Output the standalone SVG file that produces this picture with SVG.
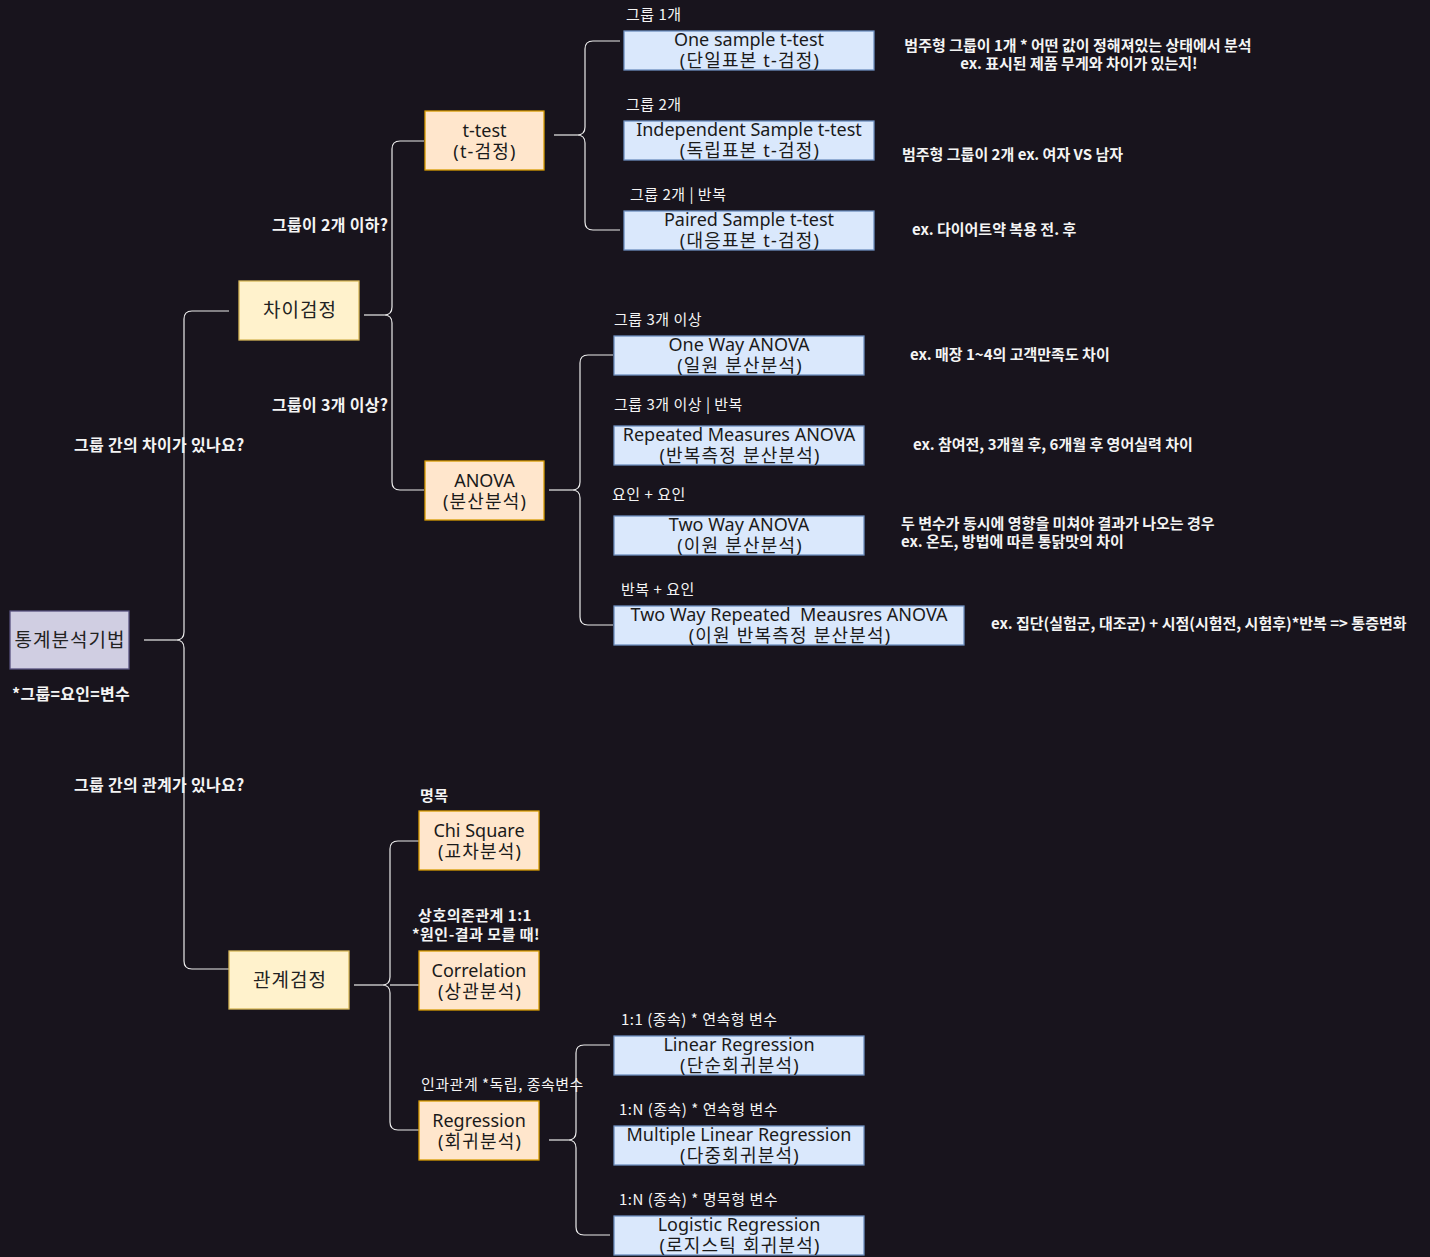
<svg xmlns="http://www.w3.org/2000/svg" width="1430" height="1257" viewBox="0 0 1430 1257">
<style>
.bg{fill:#18141d}
.blue{fill:#dae8fc;stroke:#6c8ebf;stroke-width:1.3}
.orange{fill:#ffe6cc;stroke:#d79b00;stroke-width:1.3}
.yellow{fill:#fff2cc;stroke:#d6b656;stroke-width:1.3}
.root{fill:#d0cee2;stroke:#56517e;stroke-width:1.3}
.nt{font-family:"Noto Sans","Noto Sans CJK KR",sans-serif;font-size:18px;fill:#1a1a1a;text-anchor:middle;white-space:pre}
.k{letter-spacing:1.2px}
.big{font-family:"Noto Sans CJK KR","Noto Sans",sans-serif;font-size:19px;letter-spacing:1px;fill:#222;text-anchor:middle}
.q{font-family:"Noto Sans CJK KR",sans-serif;font-size:16px;font-weight:bold;letter-spacing:0.3px;fill:#f4f4f4}
.lb{font-family:"Noto Sans CJK KR",sans-serif;font-size:15px;letter-spacing:0.5px;fill:#f4f4f4}
.lbb{font-family:"Noto Sans CJK KR",sans-serif;font-size:15px;font-weight:bold;letter-spacing:0.5px;fill:#f4f4f4}
.d{font-family:"Noto Sans CJK KR",sans-serif;font-size:15px;font-weight:bold;fill:#f4f4f4}
.c{fill:none;stroke:#ececec;stroke-width:1.2}
</style>
<rect class="bg" x="0" y="0" width="1430" height="1257"/>
<g id="connectors">
<path class="c" d="M144 640 H176"/>
<path class="c" d="M229 311 H192 Q184 311 184 319 V632 Q184 640 176 640 Q184 640 184 648 V961 Q184 969 192 969 H229"/>
<path class="c" d="M364 315 H384"/>
<path class="c" d="M424 141 H400 Q392 141 392 149 V307 Q392 315 384 315 Q392 315 392 323 V482 Q392 490 400 490 H424"/>
<path class="c" d="M554 135 H577"/>
<path class="c" d="M620 41 H593 Q585 41 585 49 V127 Q585 135 577 135 Q585 135 585 143 V222 Q585 230 593 230 H620"/>
<path class="c" d="M549 490 H572"/>
<path class="c" d="M613 355 H588 Q580 355 580 363 V482 Q580 490 572 490 Q580 490 580 498 V617 Q580 625 588 625 H613"/>
<path class="c" d="M354 985 H382"/>
<path class="c" d="M419 841 H398 Q390 841 390 849 V977 Q390 985 382 985 Q390 985 390 993 V1122 Q390 1130 398 1130 H419"/>
<path class="c" d="M390 985 H419"/>
<path class="c" d="M549 1140 H568"/>
<path class="c" d="M610 1045 H584 Q576 1045 576 1053 V1132 Q576 1140 568 1140 Q576 1140 576 1148 V1227 Q576 1235 584 1235 H610"/>
</g>
<g id="root">
<rect class="root" x="10" y="611" width="119" height="58"/>
<text class="big" x="70" y="647">통계분석기법</text>
</g>
<text class="q" x="12" y="700">*그룹=요인=변수</text>
<text class="q" x="74" y="451">그룹 간의 차이가 있나요?</text>
<text class="q" x="74" y="791">그룹 간의 관계가 있나요?</text>
<g id="diff">
<rect class="yellow" x="239" y="281" width="120" height="59"/>
<text class="big" x="300" y="317">차이검정</text>
</g>
<text class="q" x="272" y="231">그룹이 2개 이하?</text>
<text class="q" x="272" y="411">그룹이 3개 이상?</text>
<g id="ttest">
<rect class="orange" x="425" y="111" width="119" height="59"/>
<text class="nt" x="484.5" y="137">t-test</text>
<text class="nt k" x="485" y="158">(t-검정)</text>
</g>
<g id="anova">
<rect class="orange" x="425" y="461" width="119" height="59"/>
<text class="nt" x="484.5" y="487">ANOVA</text>
<text class="nt k" x="485" y="508">(분산분석)</text>
</g>
<g id="onesample">
<rect class="blue" x="624" y="31" width="250" height="39"/>
<text class="nt" x="749" y="46">One sample t-test</text>
<text class="nt k" x="750" y="67">(단일표본 t-검정)</text>
</g>
<text class="lb" x="626" y="20">그룹 1개</text>
<text class="d" x="1078" y="51" text-anchor="middle">범주형 그룹이 1개 * 어떤 값이 정해져있는 상태에서 분석</text>
<text class="d" x="1079" y="69" text-anchor="middle">ex. 표시된 제품 무게와 차이가 있는지!</text>
<g id="independent">
<rect class="blue" x="624" y="121" width="250" height="39"/>
<text class="nt" x="749" y="136">Independent Sample t-test</text>
<text class="nt k" x="750" y="157">(독립표본 t-검정)</text>
</g>
<text class="lb" x="626" y="110">그룹 2개</text>
<text class="d" x="902" y="160">범주형 그룹이 2개 ex. 여자 VS 남자</text>
<g id="paired">
<rect class="blue" x="624" y="211" width="250" height="39"/>
<text class="nt" x="749" y="226">Paired Sample t-test</text>
<text class="nt k" x="750" y="247">(대응표본 t-검정)</text>
</g>
<text class="lb" x="630" y="200">그룹 2개 | 반복</text>
<text class="d" x="912" y="235">ex. 다이어트약 복용 전. 후</text>
<g id="oneway">
<rect class="blue" x="614" y="336" width="250" height="39"/>
<text class="nt" x="739" y="351">One Way ANOVA</text>
<text class="nt k" x="740" y="372">(일원 분산분석)</text>
</g>
<text class="lb" x="614" y="325">그룹 3개 이상</text>
<text class="d" x="910" y="360">ex. 매장 1~4의 고객만족도 차이</text>
<g id="repeated">
<rect class="blue" x="614" y="426" width="250" height="39"/>
<text class="nt" x="739" y="441">Repeated Measures ANOVA</text>
<text class="nt k" x="740" y="462">(반복측정 분산분석)</text>
</g>
<text class="lb" x="614" y="410">그룹 3개 이상 | 반복</text>
<text class="d" x="913" y="450">ex. 참여전, 3개월 후, 6개월 후 영어실력 차이</text>
<g id="twoway">
<rect class="blue" x="614" y="516" width="250" height="39"/>
<text class="nt" x="739" y="531">Two Way ANOVA</text>
<text class="nt k" x="740" y="552">(이원 분산분석)</text>
</g>
<text class="lb" x="612" y="500">요인 + 요인</text>
<text class="d" x="901" y="529">두 변수가 동시에 영향을 미쳐야 결과가 나오는 경우</text>
<text class="d" x="901" y="547">ex. 온도, 방법에 따른 통닭맛의 차이</text>
<g id="tworepeated">
<rect class="blue" x="614" y="606" width="350" height="39"/>
<text class="nt" x="789" y="621">Two Way Repeated  Meausres ANOVA</text>
<text class="nt k" x="790" y="642">(이원 반복측정 분산분석)</text>
</g>
<text class="lb" x="621" y="595">반복 + 요인</text>
<text class="d" x="991" y="629">ex. 집단(실험군, 대조군) + 시점(시험전, 시험후)*반복 =&gt; 통증변화</text>
<g id="relation">
<rect class="yellow" x="229" y="951" width="120" height="58"/>
<text class="big" x="290" y="987">관계검정</text>
</g>
<g id="chisquare">
<rect class="orange" x="419" y="811" width="120" height="59"/>
<text class="nt" x="479" y="837">Chi Square</text>
<text class="nt k" x="480" y="858">(교차분석)</text>
</g>
<text class="lbb" x="420" y="801">명목</text>
<g id="correlation">
<rect class="orange" x="419" y="951" width="120" height="59"/>
<text class="nt" x="479" y="977">Correlation</text>
<text class="nt k" x="480" y="998">(상관분석)</text>
</g>
<text class="lbb" x="475" y="921" text-anchor="middle">상호의존관계 1:1</text>
<text class="lbb" x="476" y="940" text-anchor="middle">*원인-결과 모를 때!</text>
<g id="regression">
<rect class="orange" x="419" y="1101" width="120" height="59"/>
<text class="nt" x="479" y="1127">Regression</text>
<text class="nt k" x="480" y="1148">(회귀분석)</text>
</g>
<text class="lb" x="421" y="1090">인과관계 *독립, 종속변수</text>
<g id="linear">
<rect class="blue" x="614" y="1036" width="250" height="39"/>
<text class="nt" x="739" y="1051">Linear Regression</text>
<text class="nt k" x="740" y="1072">(단순회귀분석)</text>
</g>
<text class="lb" x="621" y="1025">1:1 (종속) * 연속형 변수</text>
<g id="multiple">
<rect class="blue" x="614" y="1126" width="250" height="39"/>
<text class="nt" x="739" y="1141">Multiple Linear Regression</text>
<text class="nt k" x="740" y="1162">(다중회귀분석)</text>
</g>
<text class="lb" x="619" y="1115">1:N (종속) * 연속형 변수</text>
<g id="logistic">
<rect class="blue" x="614" y="1216" width="250" height="39"/>
<text class="nt" x="739" y="1231">Logistic Regression</text>
<text class="nt k" x="740" y="1252">(로지스틱 회귀분석)</text>
</g>
<text class="lb" x="619" y="1205">1:N (종속) * 명목형 변수</text>
</svg>
